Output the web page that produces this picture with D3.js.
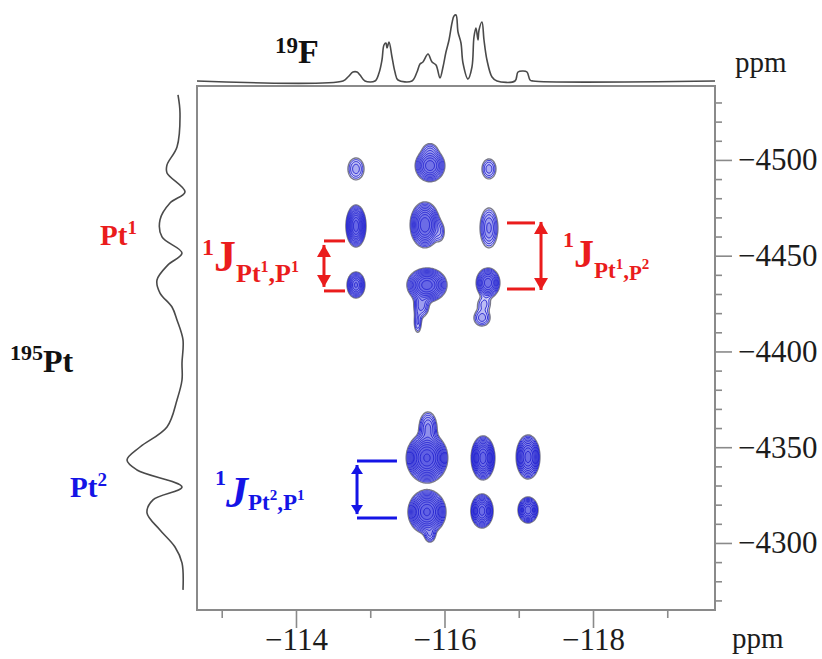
<!DOCTYPE html>
<html>
<head>
<meta charset="utf-8">
<script src="https://cdnjs.cloudflare.com/ajax/libs/d3/7.8.5/d3.min.js"></script>
<style>
body{margin:0;background:#fff}
svg text{font-family:"Liberation Serif","Times New Roman",serif}
</style>
</head>
<body>
<script>
// axes (ppm)
var fDomain = [-112.667, -119.643]
var ptDomain = [-4538.6, -4265]
var fMajor = [-114, -116, -118]
var fMinor = [-113, -115, -117, -119]
var ptMajor = [-4500, -4450, -4400, -4350, -4300]
var ptMinor = [-4530, -4520, -4510, -4490, -4480, -4470, -4460, -4440, -4430, -4420, -4410,
  -4390, -4380, -4370, -4360, -4340, -4330, -4320, -4310, -4290, -4280, -4270]

// 19F projection [ppm, intensity]
var fSpectrum = [
  [-112.667, 0], [-114.633, 0], [-114.700, 4], [-114.768, 9], [-114.822, 9], [-114.862, 6],
  [-114.929, 0], [-115.064, 0], [-115.118, 8], [-115.158, 21], [-115.185, 36], [-115.212, 38],
  [-115.226, 33], [-115.253, 39], [-115.293, 24], [-115.333, 9], [-115.374, 1], [-115.562, 0],
  [-115.630, 9], [-115.670, 17], [-115.710, 19], [-115.778, 27], [-115.832, 19], [-115.886, 16],
  [-115.939, 3], [-115.980, 14], [-116.020, 29], [-116.061, 41], [-116.101, 58], [-116.128, 65],
  [-116.155, 66], [-116.182, 49], [-116.222, 38], [-116.249, 18], [-116.316, 2], [-116.370, 14],
  [-116.397, 44], [-116.424, 53], [-116.451, 41], [-116.465, 51], [-116.505, 59], [-116.532, 41],
  [-116.572, 21], [-116.640, 4], [-116.707, 0], [-116.949, 0], [-116.990, 9], [-117.057, 10],
  [-117.111, 9], [-117.152, 1], [-117.192, 0], [-119.643, 0]
]

// 195Pt projection [ppm, intensity]
var ptSpectrum = [
  [-4534, 6], [-4524.5, 4], [-4506.8, 7], [-4497.4, 17], [-4493.2, 17], [-4483.3, -1],
  [-4477.5, 14], [-4468.7, 24], [-4459.8, 22], [-4451.4, 2], [-4445.2, 16], [-4437.3, 27],
  [-4430.5, 24], [-4423.2, 12], [-4416.4, 7], [-4406, 1], [-4394, 2], [-4385.1, 2],
  [-4374.7, 7], [-4360.6, 17], [-4350.1, 44], [-4343.3, 57], [-4338.1, 47], [-4329.2, 2],
  [-4322.5, 31], [-4315.7, 37], [-4306.8, 24], [-4297.9, 9], [-4289.6, 2], [-4275.5, 1]
]

// cross peaks [19F ppm, 195Pt ppm, half width F, half width Pt, height]
var crossPeaks = [
  [-114.808, -4495.3, 0.108, 5.7, 3],
  [-115.805, -4497.0, 0.20, 8.4, 14],
  [-115.805, -4505.2, 0.08, 3.1, 2],
  [-116.599, -4495.3, 0.094, 5.2, 3],
  [-114.808, -4465.5, 0.135, 11.0, 25],
  [-115.737, -4466.1, 0.20, 12.0, 20],
  [-115.939, -4462.4, 0.054, 4.2, 2],
  [-116.599, -4464.5, 0.12, 10.4, 5],
  [-114.808, -4434.7, 0.12, 6.8, 12],
  [-115.764, -4434.7, 0.27, 8.9, 25],
  [-115.690, -4424.0, 0.10, 6.0, 4],
  [-115.640, -4415.0, 0.045, 5.0, 2.5],
  [-116.586, -4435.8, 0.16, 7.8, 14],
  [-116.532, -4424.8, 0.08, 3.1, 2],
  [-116.505, -4417.5, 0.108, 4.2, 3],
  [-115.764, -4344.4, 0.28, 13.0, 40],
  [-115.778, -4360.0, 0.12, 8.4, 5],
  [-116.519, -4344.4, 0.16, 11.5, 25],
  [-117.125, -4344.9, 0.16, 11.5, 18],
  [-115.764, -4316.2, 0.256, 11.5, 30],
  [-115.805, -4304.2, 0.067, 3.7, 3],
  [-116.505, -4316.7, 0.15, 8.9, 18],
  [-117.125, -4317.2, 0.135, 6.8, 14]
]
var contourLevels = [1, 1.35, 1.82, 2.46, 3.32, 4.48, 6.05, 8.17, 11.0, 14.9, 20.1, 27.1, 36.6]

// coupling brackets [arrow F, end F, top Pt, bottom Pt]
var bracketPt1P1 = [-114.377, -114.66, -4457.7, -4431.6]
var bracketPt1P2 = [-117.300, -116.842, -4467.1, -4432.6]
var bracketPt2P1 = [-114.822, -115.360, -4342.8, -4313.0]

var red = '#ea1c1c', blue = '#1414e6', gray = '#8a8a8a'

var svg = d3.select('body').append('svg').attr('width', 822).attr('height', 659)

var defs = svg.append('defs')
function marker(id, color, w, l){
  defs.append('marker').attr('id', id)
    .attr('viewBox', [-l, -w/2, l, w].join(' '))
    .attr('markerUnits', 'userSpaceOnUse')
    .attr('markerWidth', l).attr('markerHeight', w)
    .attr('refX', 0).attr('refY', 0)
    .attr('orient', 'auto-start-reverse')
    .append('path').attr('d', 'M' + (-l) + ',' + (-w/2) + 'L0,0L' + (-l) + ',' + (w/2) + 'Z')
    .attr('fill', color)
}
marker('arRed', red, 14, 12)
marker('arBlue', blue, 12, 9)

var x = d3.scaleLinear().domain(fDomain).range([197, 715])
var y = d3.scaleLinear().domain(ptDomain).range([86, 610])
var fInt = d3.scaleLinear().domain([0, 66]).range([81, 15])
var ptInt = d3.scaleLinear().domain([0, 57]).range([184, 127])

// frame
svg.append('rect').attr('x', 197).attr('y', 86).attr('width', 518).attr('height', 524)
  .attr('fill', 'none').attr('stroke', gray).attr('stroke-width', 2)

var fmt = d3.format('d')
function styleAxis(g){
  g.select('.domain').remove()
  g.selectAll('.tick line').attr('stroke', gray).attr('stroke-width', 1.6)
  g.selectAll('.tick text').attr('fill', '#1c1c1c').attr('font-size', 31)
}
svg.append('g').attr('transform', 'translate(0,610)')
  .call(d3.axisBottom(x).tickValues(fMinor).tickSize(8).tickFormat(''))
  .call(styleAxis)
svg.append('g').attr('transform', 'translate(0,610)')
  .call(d3.axisBottom(x).tickValues(fMajor).tickSize(18).tickPadding(0).tickFormat(fmt))
  .call(styleAxis)
svg.append('g').attr('transform', 'translate(715,0)')
  .call(d3.axisRight(y).tickValues(ptMinor).tickSize(7).tickFormat(''))
  .call(styleAxis)
svg.append('g').attr('transform', 'translate(715,0)')
  .call(d3.axisRight(y).tickValues(ptMajor).tickSize(17).tickPadding(6).tickFormat(fmt))
  .call(styleAxis)

// projections
svg.append('path')
  .attr('d', d3.line().x(d => x(d[0])).y(d => fInt(d[1])).curve(d3.curveCatmullRom.alpha(0.5))(fSpectrum))
  .attr('fill', 'none').attr('stroke', '#4a4a4a').attr('stroke-width', 1.6)
svg.append('path')
  .attr('d', d3.line().x(d => ptInt(d[1])).y(d => y(d[0])).curve(d3.curveCatmullRom.alpha(0.5))(ptSpectrum))
  .attr('fill', 'none').attr('stroke', '#4a4a4a').attr('stroke-width', 1.6)

// contour map of the cross peaks
var gridF = [-114.35, -117.55], gridPt = [-4522, -4282]
var nx = Math.round(Math.abs(x(gridF[1]) - x(gridF[0])))
var ny = Math.round(Math.abs(y(gridPt[1]) - y(gridPt[0])))
var df = (gridF[1] - gridF[0]) / nx, dp = (gridPt[1] - gridPt[0]) / ny
var peaks = crossPeaks.map(function(p){
  var k = Math.sqrt(2 * Math.log(p[4]))
  return {f: p[0], pt: p[1], sf: p[2] / k, sp: p[3] / k, a: p[4]}
})
var values = new Float64Array(nx * ny)
for (var j = 0; j < ny; j++){
  var pt = gridPt[0] + (j + 0.5) * dp
  for (var i = 0; i < nx; i++){
    var f = gridF[0] + (i + 0.5) * df, v = 0
    peaks.forEach(function(p){
      var u = (f - p.f) / p.sf, w = (pt - p.pt) / p.sp
      v += p.a * Math.exp(-(u*u + w*w) / 2)
    })
    values[j * nx + i] = v
  }
}
var contours = d3.contours().size([nx, ny]).thresholds(contourLevels)(values)
var gridPath = d3.geoPath(d3.geoTransform({point: function(px, py){
  this.stream.point(x(gridF[0] + px * df), y(gridPt[0] + py * dp))
}}))
svg.append('g').selectAll('path').data(contours).join('path')
  .attr('d', gridPath)
  .attr('fill', '#4040e0').attr('fill-opacity', 0.13)
  .attr('stroke', (d, i) => i == 0 ? '#7a7a8a' : '#2828d2')
  .attr('stroke-width', (d, i) => i == 0 ? 1.4 : 1)

// brackets
function bracket(b, color, mk, sw){
  var g = svg.append('g').attr('stroke', color).attr('stroke-width', sw)
  g.append('line').attr('x1', x(b[0])).attr('x2', x(b[1])).attr('y1', y(b[2])).attr('y2', y(b[2]))
  g.append('line').attr('x1', x(b[0])).attr('x2', x(b[1])).attr('y1', y(b[3])).attr('y2', y(b[3]))
  g.append('line').attr('x1', x(b[0])).attr('x2', x(b[0]))
    .attr('y1', y(b[2]) + 4).attr('y2', y(b[3]) - 4)
    .attr('marker-start', 'url(#' + mk + ')').attr('marker-end', 'url(#' + mk + ')')
}
bracket(bracketPt1P1, red, 'arRed', 3)
bracket(bracketPt2P1, blue, 'arBlue', 3)
// right red bracket: lines stop short of the arrow
var b2 = svg.append('g').attr('stroke', red).attr('stroke-width', 3)
b2.append('line').attr('x1', x(bracketPt1P2[1])).attr('x2', x(bracketPt1P2[0]) - 6)
  .attr('y1', y(bracketPt1P2[2])).attr('y2', y(bracketPt1P2[2]))
b2.append('line').attr('x1', x(bracketPt1P2[1])).attr('x2', x(bracketPt1P2[0]) - 6)
  .attr('y1', y(bracketPt1P2[3])).attr('y2', y(bracketPt1P2[3]))
b2.append('line').attr('x1', x(bracketPt1P2[0])).attr('x2', x(bracketPt1P2[0]))
  .attr('y1', y(bracketPt1P2[2]) - 1).attr('y2', y(bracketPt1P2[3]) + 1)
  .attr('marker-start', 'url(#arRed)').attr('marker-end', 'url(#arRed)')

// labels: list of [text, size, dy, italic]
function label(px, py, color, parts){
  var t = svg.append('text').attr('x', px).attr('y', py).attr('fill', color).attr('font-weight', 'bold')
  parts.forEach(function(p){
    t.append('tspan').text(p[0]).attr('font-size', p[1]).attr('dy', p[2])
      .attr('font-style', p[3] ? 'italic' : null)
  })
}
label(275, 63, '#111', [['19', 23, -10], ['F', 34, 10]])
label(100, 245, red, [['Pt', 29, 0], ['1', 19, -11]])
label(10, 372, '#111', [['195', 22, -12], ['Pt', 32, 12]])
label(70, 497, blue, [['Pt', 29, 0], ['2', 19, -11]])
label(202, 271, red, [['1', 24, -16], ['J', 44, 16], ['Pt', 26, 11], ['1', 16, -10], [',', 26, 10], ['P', 26, 0], ['1', 16, -10]])
label(563, 267, red, [['1', 22, -20], ['J', 40, 20], ['Pt', 23, 11], ['1', 15, -9], [',', 23, 9], ['P', 21, 2], ['2', 15, -11]])
label(215, 507, blue, [['1', 22, -22], ['J', 44, 22, true], ['Pt', 23, 3], ['2', 15, -10], [',', 23, 10], ['P', 23, 0], ['1', 15, -10]])

svg.append('text').attr('x', 735).attr('y', 72).attr('font-size', 29).attr('fill', '#1c1c1c').text('ppm')
svg.append('text').attr('x', 732).attr('y', 648).attr('font-size', 29).attr('fill', '#1c1c1c').text('ppm')
</script>
</body>
</html>
